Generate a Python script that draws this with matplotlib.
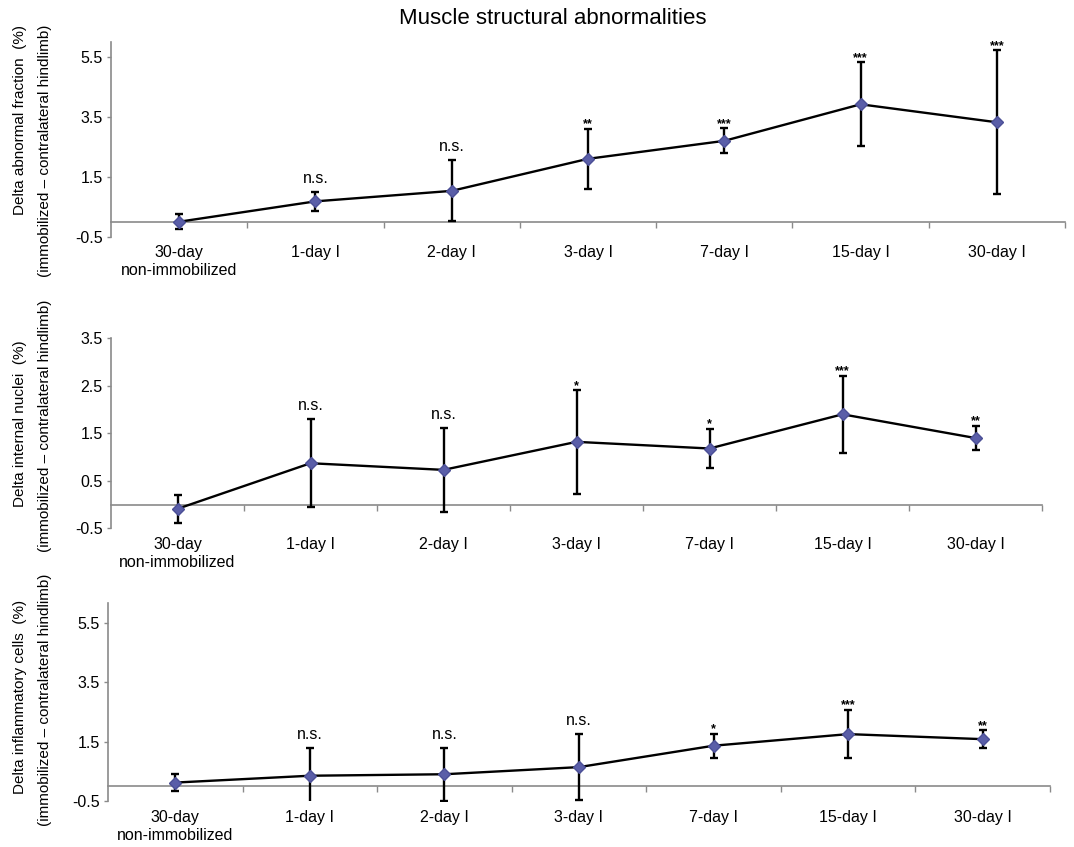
import numpy as np
import matplotlib
matplotlib.use("Agg")
import matplotlib.pyplot as plt

plt.rcParams['font.family'] = ['Liberation Sans', 'DejaVu Sans']
plt.rcParams['axes.unicode_minus'] = False

# group labels along every x axis
categories = ['30-day\nnon-immobilized', '1-day I', '2-day I', '3-day I',
              '7-day I', '15-day I', '30-day I']

# delta abnormal fraction (%)
abnormal_mean = [0.00, 0.68, 1.03, 2.10, 2.70, 3.92, 3.32]
abnormal_err = [0.25, 0.32, 1.02, 1.01, 0.42, 1.40, 2.40]
abnormal_sig = ['', 'n.s.', 'n.s.', '**', '***', '***', '***']

# delta internal nuclei (%)
nuclei_mean = [-0.09, 0.87, 0.73, 1.32, 1.18, 1.90, 1.40]
nuclei_err = [0.29, 0.93, 0.88, 1.09, 0.41, 0.81, 0.26]
nuclei_sig = ['', 'n.s.', 'n.s.', '*', '*', '***', '**']

# delta inflammatory cells (%)
inflam_mean = [0.13, 0.36, 0.41, 0.65, 1.37, 1.76, 1.59]
inflam_err = [0.30, 0.94, 0.89, 1.11, 0.40, 0.82, 0.30]
inflam_sig = ['', 'n.s.', 'n.s.', 'n.s.', '*', '***', '**']

W, H = 1074, 847
GREY = '#8a8a8a'
DIAMOND = '#5a5ea8'


def px_box(left, right, top, bottom):
    # pixel box (y measured from the top) -> figure fraction rect
    return [left / W, 1 - bottom / H, (right - left) / W, (bottom - top) / H]


def draw_panel(ax, means, errs, sig, ymax, yticks):
    x = np.arange(len(categories))
    ax.errorbar(x, means, yerr=errs, color='black', lw=1.7,
                elinewidth=1.7, capsize=3.2, capthick=1.7,
                marker='D', ms=6.2, mfc=DIAMOND, mec='#4b4f96', zorder=3)

    for xi, m, e, s in zip(x, means, errs, sig):
        if not s:
            continue
        if s == 'n.s.':
            ax.annotate(s, (xi, m + e), xytext=(0, 6.5), textcoords='offset points',
                        ha='center', va='baseline', fontsize=11.5)
        else:
            ax.annotate(s, (xi, m + e), xytext=(0, 1), textcoords='offset points',
                        ha='center', va='baseline', fontsize=9, fontweight='bold')

    ax.set_xlim(-0.5, len(categories) - 0.5)
    ax.set_ylim(-0.5, ymax)
    ax.set_yticks(yticks)
    ax.set_yticklabels([f'{t:.1f}' for t in yticks])

    # category axis crosses the value axis at zero
    ax.spines['bottom'].set_position(('data', 0))
    ax.spines['bottom'].set_color(GREY)
    ax.spines['bottom'].set_linewidth(1.2)
    ax.spines['left'].set_color(GREY)
    ax.spines['left'].set_linewidth(1.2)
    ax.spines['top'].set_visible(False)
    ax.spines['right'].set_visible(False)
    ax.set_xticks(np.arange(0.5, len(categories), 1.0))
    ax.set_xticklabels([])
    ax.tick_params(axis='x', direction='out', length=4, color=GREY, width=1)
    ax.tick_params(axis='y', direction='out', length=3, color=GREY, width=1,
                   labelsize=11.5, pad=3)

    # category names sit under the bottom of the plot area
    sec = ax.secondary_xaxis('bottom')
    sec.spines['bottom'].set_visible(False)
    sec.set_xticks(x)
    sec.set_xticklabels(categories)
    sec.tick_params(length=0, pad=6, labelsize=11.5)
    for lab in sec.get_xticklabels():
        lab.set_linespacing(1.25)


fig = plt.figure(figsize=(W / 100, H / 100), dpi=100)

ax1 = fig.add_axes(px_box(111, 1065, 42, 236.7))
draw_panel(ax1, abnormal_mean, abnormal_err, abnormal_sig, 6.0, [-0.5, 1.5, 3.5, 5.5])

ax2 = fig.add_axes(px_box(111, 1042, 338.3, 528.3))
draw_panel(ax2, nuclei_mean, nuclei_err, nuclei_sig, 3.5, [-0.5, 0.5, 1.5, 2.5, 3.5])

ax3 = fig.add_axes(px_box(108, 1050, 603, 801.3))
draw_panel(ax3, inflam_mean, inflam_err, inflam_sig, 6.17, [-0.5, 1.5, 3.5, 5.5])

fig.text(553 / W, 1 - 18 / H, 'Muscle structural abnormalities',
         ha='center', va='center', fontsize=16)

# two-line value axis titles, one text per line
ylabels = [
    ('Delta abnormal fraction  (%)', 25, 25),
    ('Delta internal nuclei  (%)', 340, 300),
    ('Delta inflammatory cells  (%)', 600, 574),
]
for first, top1, top2 in ylabels:
    fig.text(20 / W, 1 - top1 / H, first, rotation=90, ha='center', va='top',
             fontsize=11)
    fig.text(45 / W, 1 - top2 / H, '(immobilized \u2013 contralateral hindlimb)',
             rotation=90, ha='center', va='top', fontsize=11)

fig.savefig('out.png', dpi=100)
